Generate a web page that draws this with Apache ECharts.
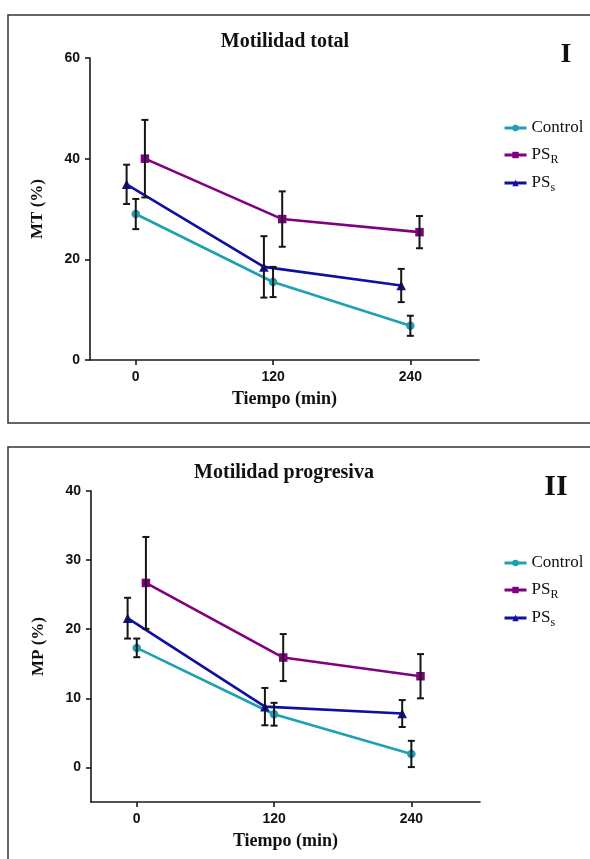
<!DOCTYPE html>
<html>
<head>
<meta charset="utf-8">
<script src="https://cdn.jsdelivr.net/npm/echarts@6/dist/echarts.min.js"></script>
<style>
html,body{margin:0;padding:0;background:#fff;}
#c{width:590px;height:859px;}
</style>
</head>
<body>
<div id="c"></div>
<script>
// ---- data ----
const timePoints = [0, 120, 240];
const xTicks = [0, 120, 240];
const mtTicks = [0, 20, 40, 60];
const mpTicks = [0, 10, 20, 30, 40];
const seriesNames = ['Control', 'PS_R', 'PS_s'];
const dodge = [0, 8, -8]; // horizontal dodge (min) per group

const mtControl = [29.0, 15.5, 6.8];
const mtControlSD = [3.0, 3.0, 2.0];
const mtPSR = [40.0, 28.0, 25.4];
const mtPSRSD = [7.7, 5.5, 3.2];
const mtPSs = [34.9, 18.5, 14.8];
const mtPSsSD = [3.9, 6.1, 3.3];

const mpControl = [17.3, 7.7, 1.95];
const mpControlSD = [1.35, 1.65, 1.9];
const mpPSR = [26.7, 15.9, 13.2];
const mpPSRSD = [6.65, 3.4, 3.2];
const mpPSs = [21.6, 8.8, 7.8];
const mpPSsSD = [2.95, 2.7, 1.95];

// ---- styles ----
const colors = ['#1f9fb2', '#800080', '#0f0fa0'];
const symbols = ['circle', 'rect', 'triangle'];
const SERIF = '"Liberation Serif", "Times New Roman", serif';
const SANS = '"Liberation Sans", Arial, sans-serif';

function pts(vals, g) { return timePoints.map((t, i) => [t + dodge[g], vals[i]]); }
function errs(vals, sd, g) { return timePoints.map((t, i) => [t + dodge[g], vals[i] - sd[i], vals[i] + sd[i]]); }

function renderErr(params, api) {
  const x = api.value(0), lo = api.value(1), hi = api.value(2);
  const a = api.coord([x, hi]), b = api.coord([x, lo]);
  const w = 3.5;
  const st = { stroke: '#151515', lineWidth: 2 };
  return { type: 'group', children: [
    { type: 'line', shape: { x1: a[0], y1: a[1], x2: b[0], y2: b[1] }, style: st },
    { type: 'line', shape: { x1: a[0] - w, y1: a[1], x2: a[0] + w, y2: a[1] }, style: st },
    { type: 'line', shape: { x1: b[0] - w, y1: b[1], x2: b[0] + w, y2: b[1] }, style: st }
  ]};
}

const axisLineStyle = { show: true, onZero: false, lineStyle: { color: '#1a1a1a', width: 1.6 } };
function xAxisCfg(gi) {
  return {
    type: 'value', gridIndex: gi, min: -40, max: 300,
    splitLine: { show: false },
    axisLine: axisLineStyle,
    axisTick: { show: true, length: 5, customValues: xTicks, lineStyle: { color: '#1a1a1a', width: 1.6 } },
    axisLabel: { customValues: xTicks, margin: 10, color: '#111', fontFamily: SANS, fontWeight: 'bold', fontSize: 14 },
    name: 'Tiempo (min)', nameLocation: 'middle', nameGap: 30,
    nameTextStyle: { fontFamily: SERIF, fontWeight: 'bold', fontSize: 18, color: '#111' }
  };
}
function yAxisCfg(gi, min, max, ticks, name) {
  return {
    type: 'value', gridIndex: gi, min: min, max: max,
    splitLine: { show: false },
    axisLine: axisLineStyle,
    axisTick: { show: true, length: 5, customValues: ticks, lineStyle: { color: '#1a1a1a', width: 1.6 } },
    axisLabel: { customValues: ticks, margin: 10, color: '#111', fontFamily: SANS, fontWeight: 'bold', fontSize: 14 },
    name: name, nameLocation: 'middle', nameGap: 44, nameRotate: 90,
    nameTextStyle: { fontFamily: SERIF, fontWeight: 'bold', fontSize: 17, color: '#111' }
  };
}

function lineSeries(g, vals, gi) {
  return {
    type: 'line', name: seriesNames[g], xAxisIndex: gi, yAxisIndex: gi,
    data: pts(vals, g), symbol: symbols[g], symbolSize: g === 2 ? 9.5 : 8.5,
    lineStyle: { color: colors[g], width: 2.6 }, itemStyle: { color: colors[g] },
    z: 3, animation: false
  };
}
function errSeries(g, vals, sd, gi) {
  return {
    type: 'custom', name: seriesNames[g] + '_err', xAxisIndex: gi, yAxisIndex: gi,
    data: errs(vals, sd, g), renderItem: renderErr, encode: { x: 0, y: [1, 2] },
    z: 4, animation: false, silent: true
  };
}

function legendCfg(top) {
  return {
    orient: 'vertical', left: 498, top: top, itemWidth: 22, itemHeight: 8, itemGap: 7,
    data: seriesNames,
    lineStyle: { width: 3 },
    formatter: function (n) {
      if (n === 'PS_R') return 'PS{sub|R}';
      if (n === 'PS_s') return 'PS{sub|s}';
      return n;
    },
    textStyle: {
      fontFamily: SERIF, fontSize: 17, color: '#111', lineHeight: 20,
      rich: { sub: { fontFamily: SERIF, fontSize: 12, lineHeight: 12, verticalAlign: 'top', padding: [9, 0, 0, 0], color: '#111' } }
    }
  };
}

const option = {
  backgroundColor: '#fff',
  animation: false,
  grid: [
    { left: 90, top: 58, width: 389, height: 302 },
    { left: 91, top: 491, width: 389, height: 311 }
  ],
  xAxis: [xAxisCfg(0), xAxisCfg(1)],
  yAxis: [yAxisCfg(0, 0, 60, mtTicks, 'MT (%)'), yAxisCfg(1, -5, 40, mpTicks, 'MP (%)')],
  legend: [legendCfg(113), legendCfg(548)],
  graphic: [
    { type: 'rect', shape: { x: 8, y: 15, width: 640, height: 408 }, style: { fill: 'none', stroke: '#333', lineWidth: 1.5 }, z: -1 },
    { type: 'rect', shape: { x: 8, y: 447, width: 640, height: 460 }, style: { fill: 'none', stroke: '#333', lineWidth: 1.5 }, z: -1 },
    { type: 'text', x: 285, y: 42, style: { text: 'Motilidad total', font: 'bold 20px ' + SERIF, fill: '#111', textAlign: 'center', textVerticalAlign: 'middle' } },
    { type: 'text', x: 284, y: 473, style: { text: 'Motilidad progresiva', font: 'bold 20px ' + SERIF, fill: '#111', textAlign: 'center', textVerticalAlign: 'middle' } },
    { type: 'text', x: 566, y: 55, style: { text: 'I', font: 'bold 28px ' + SERIF, fill: '#111', textAlign: 'center', textVerticalAlign: 'middle' } },
    { type: 'text', x: 556, y: 487, style: { text: 'II', font: 'bold 30px ' + SERIF, fill: '#111', textAlign: 'center', textVerticalAlign: 'middle' } }
  ],
  series: [
    lineSeries(0, mtControl, 0), lineSeries(1, mtPSR, 0), lineSeries(2, mtPSs, 0),
    errSeries(0, mtControl, mtControlSD, 0), errSeries(1, mtPSR, mtPSRSD, 0), errSeries(2, mtPSs, mtPSsSD, 0),
    lineSeries(0, mpControl, 1), lineSeries(1, mpPSR, 1), lineSeries(2, mpPSs, 1),
    errSeries(0, mpControl, mpControlSD, 1), errSeries(1, mpPSR, mpPSRSD, 1), errSeries(2, mpPSs, mpPSsSD, 1)
  ]
};

const chart = echarts.init(document.getElementById('c'), null, { renderer: 'canvas' });
chart.setOption(option);
</script>
</body>
</html>
